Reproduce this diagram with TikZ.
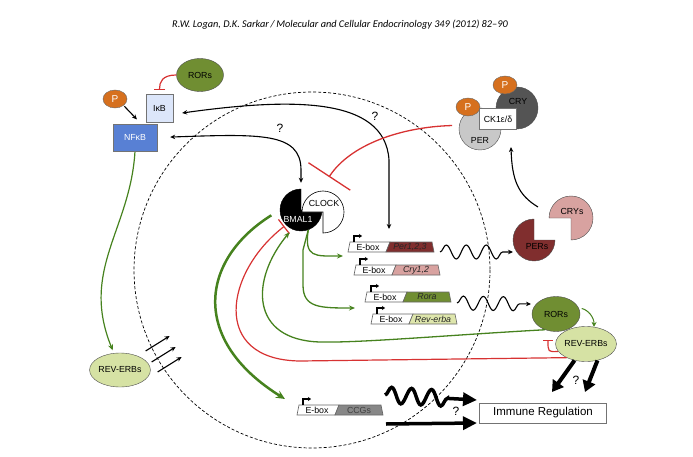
\documentclass[tikz,border=0pt]{standalone}
\usepackage{fontspec}
\setmainfont{Liberation Sans}
\newfontfamily\headfont{Carlito}
\usetikzlibrary{
  shapes.geometric,
  positioning,
  calc,
  arrows.meta,
  decorations.pathmorphing}
\definecolor{phoscolor}{RGB}{214,112,30}
\definecolor{rorcolor}{RGB}{112,142,50}
\definecolor{revcolor}{RGB}{214,226,164}
\definecolor{ikbcolor}{RGB}{220,230,250}
\definecolor{nfkbcolor}{RGB}{88,128,212}
\definecolor{percolor}{RGB}{200,200,200}
\definecolor{crycolor}{RGB}{84,84,84}
\definecolor{perscolor}{RGB}{128,46,46}
\definecolor{cryscolor}{RGB}{216,162,160}
\definecolor{revgenecolor}{RGB}{222,230,172}
\definecolor{ccgcolor}{RGB}{135,135,135}
\definecolor{actcolor}{RGB}{70,130,30}
\definecolor{inhcolor}{RGB}{215,50,50}
\tikzset{
  %% phos : phosphate group
  phos/.style={
    ellipse,
    draw=black!60,
    fill=phoscolor,
    text=white,
    minimum width=24pt,
    minimum height=18pt,
    inner sep=0pt,
    font=\fontsize{10}{10}\selectfont
  },
  %% receptor : nuclear receptor (RORs, REV-ERBs)
  receptor/.style={
    ellipse,
    draw=black!70,
    minimum width=47pt,
    minimum height=34pt,
    inner sep=0pt
  },
  %% kinase : plain box
  kinase/.style={
    rectangle,
    draw=black!55,
    inner sep=0pt,
    align=center
  },
  %% core : round clock protein (outline drawn separately)
  core/.style={
    circle,
    minimum size=42pt,
    inner sep=0pt
  },
  %% act : activation
  act/.style={actcolor, line width=1.3pt, -{Stealth[length=6pt,width=5pt]}},
  %% inh : inhibition
  inh/.style={inhcolor, line width=1.2pt, -{Bar[width=11pt]}},
  %% link : two-way black connection
  link/.style={black, line width=1.1pt,
    {Stealth[length=5pt,width=4.5pt]}-{Stealth[length=5pt,width=4.5pt]}},
  %% arr : thin black arrow
  arr/.style={black, line width=1.1pt, -{Stealth[length=5pt,width=4.5pt]}},
  %% fat : thick black arrow
  fat/.style={black, line width=4pt, -{Triangle[length=11pt,width=13pt]}},
  %% wave : mRNA
  wave/.style={decorate,
    decoration={snake, amplitude=7pt, segment length=20pt, post length=5pt}},
  %% query : question mark
  query/.style={font=\fontsize{12}{12}\selectfont},
  %% cell : cell boundary
  cell/.style={black, line width=0.7pt, dash pattern=on 3pt off 2pt}
}
%% \genebox{name}{x}{y}{gene}{fill}{text style}
\newcommand{\genebox}[6]{%
  \filldraw [black!60, fill=white, line width=0.6pt]
    (#2+2, #3) -- (#2+42, #3) -- (#2+38, #3+10) -- (#2, #3+10) -- cycle;
  \filldraw [black!60, fill=#5, line width=0.6pt]
    (#2+42, #3) -- (#2+84, #3) -- (#2+86, #3+10) -- (#2+38, #3+10) -- cycle;
  \node (#1-e) [inner sep=0pt] at (#2+20, #3+5) {E-box};
  \node (#1-g) [inner sep=0pt, #6] at (#2+62, #3+5) {#4};
  \draw [black, line width=1.3pt, -{Stealth[length=3pt,width=4pt]}]
    (#2+6, #3) -- (#2+6, #3-6) -- (#2+14, #3-6);
}

\begin{document}
\begin{tikzpicture}
  [x=1pt,
  y=-1pt,
  align=center]
  \fontsize{8.8}{10}\selectfont
  \useasboundingbox (0, 0) rectangle (693, 457);

  %% Journal header
  \node (header) at (340, 25) {\headfont\itshape\fontsize{10.3}{12}\selectfont
    R.W. Logan, D.K. Sarkar\,/\,Molecular and Cellular Endocrinology 349 (2012) 82–90};

  %% Cell boundary
  \draw [cell] (312, 270) circle [radius=178];

  %% NFkB pathway
  \node (rortop) [receptor, fill=rorcolor, minimum height=33pt] at (200, 75) {RORs};
  \node (ptop) [phos] at (115, 99) {P};
  \node (ikb) [kinase, fill=ikbcolor, minimum width=27pt, minimum height=28pt]
    at (159.5, 108) {IκB};
  \node (nfkb) [kinase, fill=nfkbcolor, text=white, minimum width=44pt,
    minimum height=27pt] at (135, 137.5) {NFκB};
  \node (revl) [receptor, fill=revcolor] at (120, 370) {REV-ERBs};

  %% PER/CRY complex
  \node (per) [core, draw=black!70, fill=percolor] at (480, 129) {};
  \node (cry) [core, draw=black!70, fill=crycolor] at (517, 108) {};
  \node (pertext) at (480, 140) {PER};
  \node (crytext) at (518, 101) {CRY};
  \node (pcry) [phos] at (505, 85) {P};
  \node (pper) [phos] at (468, 107) {P};
  \node (ck) [kinase, fill=white, minimum width=37pt, minimum height=21pt]
    at (498, 119) {CK1ε/δ};

  %% BMAL1 / CLOCK
  \node (bmal) [core] at (301, 210) {};
  \node (clock) [core] at (323, 212) {};
  \filldraw [black] (bmal.center) -- ++(0, -21)
    arc [start angle=270, end angle=0, radius=21] -- cycle;
  \filldraw [draw=black, fill=white, line width=0.6pt] (clock.center) -- ++(-21, 0)
    arc [start angle=180, end angle=450, radius=21] -- cycle;
  \node (clocktext) at (324, 203) {CLOCK};
  \node (bmaltext) [text=white] at (298, 219) {BMAL1};

  %% PERs / CRYs
  \node (pers) [core] at (534, 240) {};
  \node (crys) [core, minimum size=44pt] at (571, 218) {};
  \filldraw [draw=black!70, fill=perscolor] (pers.center) -- ++(0, -21)
    arc [start angle=270, end angle=0, radius=21] -- cycle;
  \filldraw [draw=black!70, fill=cryscolor] (crys.center) -- ++(-22, 0)
    arc [start angle=180, end angle=450, radius=22] -- cycle;
  \node (perstext) at (537, 247) {PERs};
  \node (crystext) at (572, 211) {CRYs};

  %% Clock controlled genes
  \genebox{pergene}{348}{242}{Per1,2,3}{perscolor}{font=\itshape, text=black!85}
  \genebox{crygene}{354}{265}{Cry1,2}{cryscolor}{font=\itshape, text=black!85}
  \genebox{roragene}{365}{292}{Rora}{rorcolor}{font=\itshape, text=black!85}
  \genebox{revgene}{371}{314}{Rev-erba}{revgenecolor}{font=\itshape, text=black!85}
  \genebox{ccggene}{297}{405}{CCGs}{ccgcolor}{text=black!75}

  %% Right receptors and output
  \node (rorr) [receptor, fill=rorcolor, minimum width=48pt, minimum height=35pt]
    at (556, 314) {RORs};
  \node (revr) [receptor, fill=revcolor, minimum width=46pt, minimum height=35pt]
    at (586, 344) {REV-ERBs};
  \node (immune) [kinase, fill=white, minimum width=127pt, minimum height=20pt,
    font=\fontsize{11.5}{12}\selectfont] at (543, 413) {Immune Regulation};

  %% Free ends
  \coordinate (perin) at (389, 229);
  \coordinate (cplxin) at (511, 147);
  \coordinate (corebar) at (329, 177);
  \coordinate (pcin) at (343, 256);
  \coordinate (rrin) at (355, 308);
  \coordinate (ccgin) at (285, 399);
  \coordinate (perwave) at (440, 252);
  \coordinate (perswave) at (513, 252);
  \coordinate (rorawave) at (457, 303);
  \coordinate (rorwave) at (531, 304);
  \coordinate (ccgwave) at (385, 395);
  \coordinate (immunehigh) at (477, 400);
  \coordinate (ccgline) at (386, 424);
  \coordinate (immunelow) at (477, 423);
  \coordinate (leftfat) at (552, 392);
  \coordinate (rightfat) at (585, 392);

  %% Connections
  \draw [inh, shorten >=4pt] (rortop.west) .. controls +(-14, 0) and +(0, -12) .. (ikb.north);
  \draw [arr, shorten <=1pt, shorten >=5pt] (ptop.south east) -- ($(nfkb.north)!0.5!(ikb.south west)$);
  \draw [link] ($(ikb.east) + (9, 5)$) .. controls (290, 98) and (385, 96) .. (389, 160) -- (perin);
  \draw [link, shorten <=13pt, shorten >=6pt] (nfkb.east) .. controls (260, 134) and (301, 132) .. (301, 170) -- (bmal.north);
  \draw [inh, line width=1.3pt, -{Bar[width=50pt]}, shorten <=7pt] (per.170) .. controls (400, 127) and (350, 145) .. (corebar);
  \draw [arr] (538, 207) .. controls (518, 195) and (512, 180) .. (cplxin);

  \draw [act] (bmal.-70) .. controls (304, 258) and (315, 256) .. (pcin);
  \draw [act] (bmal.-70) -- (303, 250) -- (303, 285) .. controls (303, 308) and (320, 308) .. (rrin);
  \draw [act, line width=2.5pt, -{Stealth[length=9pt,width=8pt]}, shorten <=10pt] (bmal.west) .. controls (200, 260) and (190, 340) .. (ccgin);
  \draw [inh, -{Bar[width=18pt]}, shorten >=2pt] (revr.215) -- (300, 361) .. controls (210, 360) and (225, 272) .. (bmal.-135);
  \draw [act, shorten >=4pt] (rorr.235) .. controls (450, 335) and (360, 343) .. (320, 342) .. controls (250, 340) and (250, 280) .. (bmal.-115);
  \draw [act, line width=1pt, -{Stealth[length=5pt,width=5pt]}, shorten <=3pt] (rorr.15) to [bend left=40] (revr.65);
  \draw [inh, -{Bar[width=10pt]}] (revr.195) .. controls (548, 352) .. (548, 340);
  \draw [fat] (revr.235) -- (leftfat);
  \draw [fat] (revr.305) -- (rightfat);

  \draw [act, line width=1.2pt, shorten <=1pt, shorten >=3pt] (nfkb.south) .. controls (130, 230) and (80, 270) .. (revl.110);
  \draw [arr] ($(revl.east) + (-5, -19)$) -- ++(24, -15);
  \draw [arr] ($(revl.east) + (1, -8)$) -- ++(24, -15);
  \draw [arr] ($(revl.east) + (7, 2)$) -- ++(24, -15);

  %% Transcripts
  \draw [arr, wave] (perwave) -- (perswave);
  \draw [arr, wave] (rorawave) -- (rorwave);
  \draw [line width=3.5pt, -{Triangle[length=14pt,width=13pt]}, decorate,
    decoration={snake, amplitude=8pt, segment length=20pt, post length=26pt}] (ccgwave) -- (immunehigh);
  \draw [line width=3.5pt, -{Triangle[length=14pt,width=13pt]}] (ccgline) -- (immunelow);

  %% Question marks
  \node (query1) [query] at (375, 116) {?};
  \node (query2) [query] at (280, 128) {?};
  \node (query3) [query] at (576, 380) {?};
  \node (query4) [query] at (456, 411) {?};

\end{tikzpicture}
\end{document}
